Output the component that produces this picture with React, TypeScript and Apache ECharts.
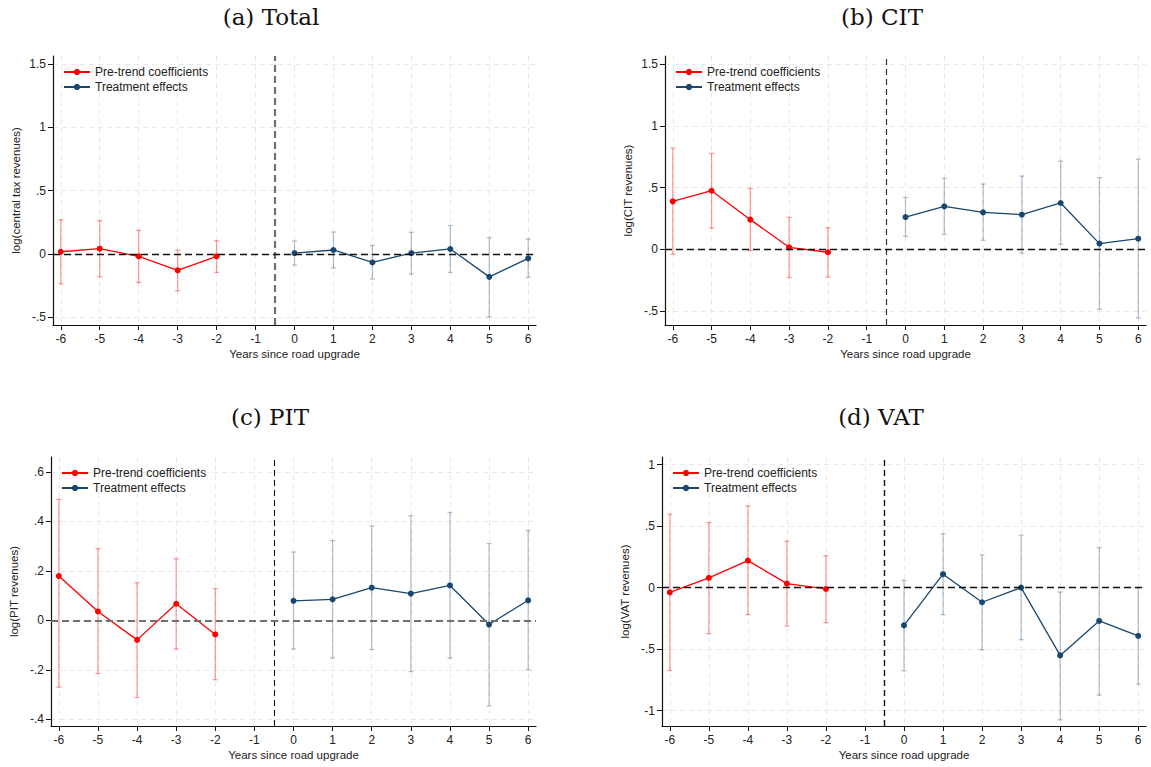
import React, { useEffect, useRef } from "react";
import * as echarts from "echarts";

// ---- data ----
const preYears = [-6, -5, -4, -3, -2];
const postYears = [0, 1, 2, 3, 4, 5, 6];
const xTicks = [-6, -5, -4, -3, -2, -1, 0, 1, 2, 3, 4, 5, 6];

const totalPre = [0.018, 0.042, -0.018, -0.129, -0.018];
const totalPreLo = [-0.235, -0.18, -0.224, -0.29, -0.145];
const totalPreHi = [0.27, 0.263, 0.187, 0.03, 0.105];
const totalPost = [0.008, 0.032, -0.066, 0.008, 0.04, -0.18, -0.034];
const totalPostLo = [-0.087, -0.11, -0.197, -0.158, -0.145, -0.497, -0.184];
const totalPostHi = [0.103, 0.174, 0.068, 0.171, 0.226, 0.13, 0.118];

const citPre = [0.388, 0.474, 0.24, 0.016, -0.024];
const citPreLo = [-0.04, 0.172, -0.011, -0.229, -0.226];
const citPreHi = [0.819, 0.776, 0.493, 0.259, 0.175];
const citPost = [0.261, 0.348, 0.299, 0.28, 0.375, 0.046, 0.086];
const citPostLo = [0.105, 0.121, 0.073, -0.032, 0.04, -0.485, -0.555];
const citPostHi = [0.42, 0.574, 0.528, 0.593, 0.714, 0.58, 0.73];

const pitPre = [0.179, 0.036, -0.079, 0.067, -0.057];
const pitPreLo = [-0.27, -0.215, -0.312, -0.116, -0.24];
const pitPreHi = [0.489, 0.289, 0.152, 0.249, 0.128];
const pitPost = [0.079, 0.085, 0.132, 0.108, 0.141, -0.017, 0.081];
const pitPostLo = [-0.116, -0.152, -0.118, -0.207, -0.153, -0.346, -0.199];
const pitPostHi = [0.276, 0.322, 0.381, 0.423, 0.436, 0.31, 0.363];

const vatPre = [-0.038, 0.079, 0.22, 0.033, -0.011];
const vatPreLo = [-0.673, -0.374, -0.22, -0.312, -0.285];
const vatPreHi = [0.597, 0.529, 0.662, 0.377, 0.26];
const vatPost = [-0.307, 0.109, -0.119, 0.0, -0.551, -0.271, -0.393];
const vatPostLo = [-0.676, -0.22, -0.505, -0.423, -1.075, -0.874, -0.784];
const vatPostHi = [0.06, 0.437, 0.266, 0.426, -0.035, 0.326, 0.0];

const yTicksTotal = [-0.5, 0, 0.5, 1, 1.5];
const yTicksCit = [-0.5, 0, 0.5, 1, 1.5];
const yTicksPit = [-0.4, -0.2, 0, 0.2, 0.4, 0.6];
const yTicksVat = [-1, -0.5, 0, 0.5, 1];

const titles = ["(a) Total", "(b) CIT", "(c) PIT", "(d) VAT"];
const yNames = [
  "log(central tax revenues)",
  "log(CIT revenues)",
  "log(PIT revenues)",
  "log(VAT revenues)",
];
const xName = "Years since road upgrade";
const legendNames = ["Pre-trend coefficients", "Treatment effects"];

const RED = "#ff0000";
const RED_CI = "rgba(255,0,0,0.38)";
const BLUE = "#1a476f";
const BLUE_CI = "rgba(26,71,111,0.32)";
const SANS = "'Liberation Sans', Arial, sans-serif";

function fmt(v: number) {
  const r = Math.round(v * 1000) / 1000;
  if (r === 0) return "0";
  return String(r).replace(/^(-?)0\./, "$1.");
}

const panels = [
  {
    pre: totalPre, preLo: totalPreLo, preHi: totalPreHi,
    post: totalPost, postLo: totalPostLo, postHi: totalPostHi,
    yTicks: yTicksTotal,
    grid: { left: 53, top: 56, width: 483, height: 269 },
    yMin: -0.56, yMax: 1.563,
    vLine: { color: "#707070", width: 2.2, type: [7, 4] },
    hLine: { color: "#111", width: 1.3, type: [7, 4] },
    titleX: 271, titleY: 17,
  },
  {
    pre: citPre, preLo: citPreLo, preHi: citPreHi,
    post: citPost, postLo: citPostLo, postHi: citPostHi,
    yTicks: yTicksCit,
    grid: { left: 665, top: 56, width: 481, height: 269 },
    yMin: -0.613, yMax: 1.565,
    vLine: { color: "#333", width: 1.2, type: [6, 4] },
    hLine: { color: "#111", width: 1.3, type: [7, 4] },
    titleX: 882, titleY: 17,
  },
  {
    pre: pitPre, preLo: pitPreLo, preHi: pitPreHi,
    post: pitPost, postLo: pitPostLo, postHi: pitPostHi,
    yTicks: yTicksPit,
    grid: { left: 51, top: 457, width: 485, height: 269 },
    yMin: -0.427, yMax: 0.66,
    vLine: { color: "#111", width: 1.1, type: [6, 4] },
    hLine: { color: "#707070", width: 2.2, type: [7, 4] },
    titleX: 270, titleY: 417,
  },
  {
    pre: vatPre, preLo: vatPreLo, preHi: vatPreHi,
    post: vatPost, postLo: vatPostLo, postHi: vatPostHi,
    yTicks: yTicksVat,
    grid: { left: 662, top: 457, width: 484, height: 269 },
    yMin: -1.125, yMax: 1.062,
    vLine: { color: "#111", width: 1.4, type: [6, 4] },
    hLine: { color: "#111", width: 1.3, type: [7, 4] },
    titleX: 881, titleY: 417,
  },
];

function ciRender(color: string) {
  return (params: any, api: any) => {
    const x = api.value(0);
    const lo = api.value(1);
    const hi = api.value(2);
    const top = api.coord([x, hi]);
    const bot = api.coord([x, lo]);
    const w = 2.5;
    const style = { stroke: color, lineWidth: 1.3 };
    return {
      type: "group",
      children: [
        { type: "line", shape: { x1: top[0], y1: top[1], x2: bot[0], y2: bot[1] }, style },
        { type: "line", shape: { x1: top[0] - w, y1: top[1], x2: top[0] + w, y2: top[1] }, style },
        { type: "line", shape: { x1: bot[0] - w, y1: bot[1], x2: bot[0] + w, y2: bot[1] }, style },
      ],
    };
  };
}

function buildOption() {
  const grid: any[] = [];
  const xAxis: any[] = [];
  const yAxis: any[] = [];
  const series: any[] = [];
  const legend: any[] = [];
  const graphic: any[] = [];

  panels.forEach((p, i) => {
    grid.push({ ...p.grid, containLabel: false });
    xAxis.push({
      type: "value",
      gridIndex: i,
      min: -6.2,
      max: 6.2,
      name: xName,
      nameLocation: "middle",
      nameGap: 23,
      nameTextStyle: { fontFamily: SANS, fontSize: 11.5, color: "#222" },
      axisLine: { show: true, onZero: false, lineStyle: { color: "#111", width: 1.2 } },
      axisTick: { show: true, length: 5, customValues: xTicks, lineStyle: { color: "#111" } },
      axisLabel: {
        customValues: xTicks,
        margin: 8,
        fontFamily: SANS,
        fontSize: 12,
        color: "#222",
        formatter: (v: number) => fmt(v),
      },
      splitLine: { show: true, lineStyle: { color: "#e9e9e9", width: 1, type: [5, 4] } },
    });
    yAxis.push({
      type: "value",
      gridIndex: i,
      min: p.yMin,
      max: p.yMax,
      name: yNames[i],
      nameLocation: "middle",
      nameGap: 31,
      nameTextStyle: { fontFamily: SANS, fontSize: 11.5, color: "#222" },
      axisLine: { show: true, onZero: false, lineStyle: { color: "#111", width: 1.2 } },
      axisTick: { show: true, length: 5, customValues: p.yTicks, lineStyle: { color: "#111" } },
      axisLabel: {
        customValues: p.yTicks,
        margin: 7,
        fontFamily: SANS,
        fontSize: 12,
        color: "#222",
        formatter: (v: number) => fmt(v),
      },
      splitLine: { show: true, lineStyle: { color: "#e9e9e9", width: 1, type: [5, 4] } },
    });

    series.push({
      type: "custom",
      name: "pre-ci-" + i,
      xAxisIndex: i,
      yAxisIndex: i,
      renderItem: ciRender(RED_CI),
      encode: { x: 0, y: [1, 2] },
      data: preYears.map((x, k) => [x, p.preLo[k], p.preHi[k]]),
      z: 2,
      clip: false,
    });
    series.push({
      type: "custom",
      name: "post-ci-" + i,
      xAxisIndex: i,
      yAxisIndex: i,
      renderItem: ciRender(BLUE_CI),
      encode: { x: 0, y: [1, 2] },
      data: postYears.map((x, k) => [x, p.postLo[k], p.postHi[k]]),
      z: 2,
      clip: false,
    });
    series.push({
      type: "line",
      name: legendNames[0],
      xAxisIndex: i,
      yAxisIndex: i,
      data: preYears.map((x, k) => [x, p.pre[k]]),
      symbol: "circle",
      symbolSize: 6,
      itemStyle: { color: RED },
      lineStyle: { color: RED, width: 1.3 },
      z: 4,
      markLine: {
        silent: true,
        symbol: "none",
        label: { show: false },
        animation: false,
        data: [
          { xAxis: -0.5, lineStyle: { color: p.vLine.color, width: p.vLine.width, type: p.vLine.type } },
          { yAxis: 0, lineStyle: { color: p.hLine.color, width: p.hLine.width, type: p.hLine.type } },
        ],
      },
    });
    series.push({
      type: "line",
      name: legendNames[1],
      xAxisIndex: i,
      yAxisIndex: i,
      data: postYears.map((x, k) => [x, p.post[k]]),
      symbol: "circle",
      symbolSize: 6,
      itemStyle: { color: BLUE },
      lineStyle: { color: BLUE, width: 1.3 },
      z: 4,
    });

    legend.push({
      data: legendNames,
      orient: "vertical",
      left: p.grid.left + 5,
      top: p.grid.top + 5,
      itemWidth: 26,
      itemHeight: 8,
      itemGap: 3,
      selectedMode: false,
      textStyle: { fontFamily: SANS, fontSize: 12, color: "#222" },
    });

    graphic.push({
      type: "text",
      x: p.titleX,
      y: p.titleY,
      style: {
        text: titles[i],
        fill: "#111",
        font: "23px 'DejaVu Serif', 'Liberation Serif', serif",
        textAlign: "center",
        textVerticalAlign: "middle",
      },
    });
  });

  return {
    animation: false,
    backgroundColor: "#fff",
    grid,
    xAxis,
    yAxis,
    series,
    legend,
    graphic,
  };
}

export default function App() {
  const ref = useRef<HTMLDivElement>(null);
  useEffect(() => {
    if (!ref.current) return;
    const chart = echarts.init(ref.current, undefined, { renderer: "svg" });
    chart.setOption(buildOption() as any);
    return () => chart.dispose();
  }, []);
  return (
    <div
      ref={ref}
      style={{ position: "fixed", left: 0, top: 0, width: 1151, height: 767, background: "#fff" }}
    />
  );
}
